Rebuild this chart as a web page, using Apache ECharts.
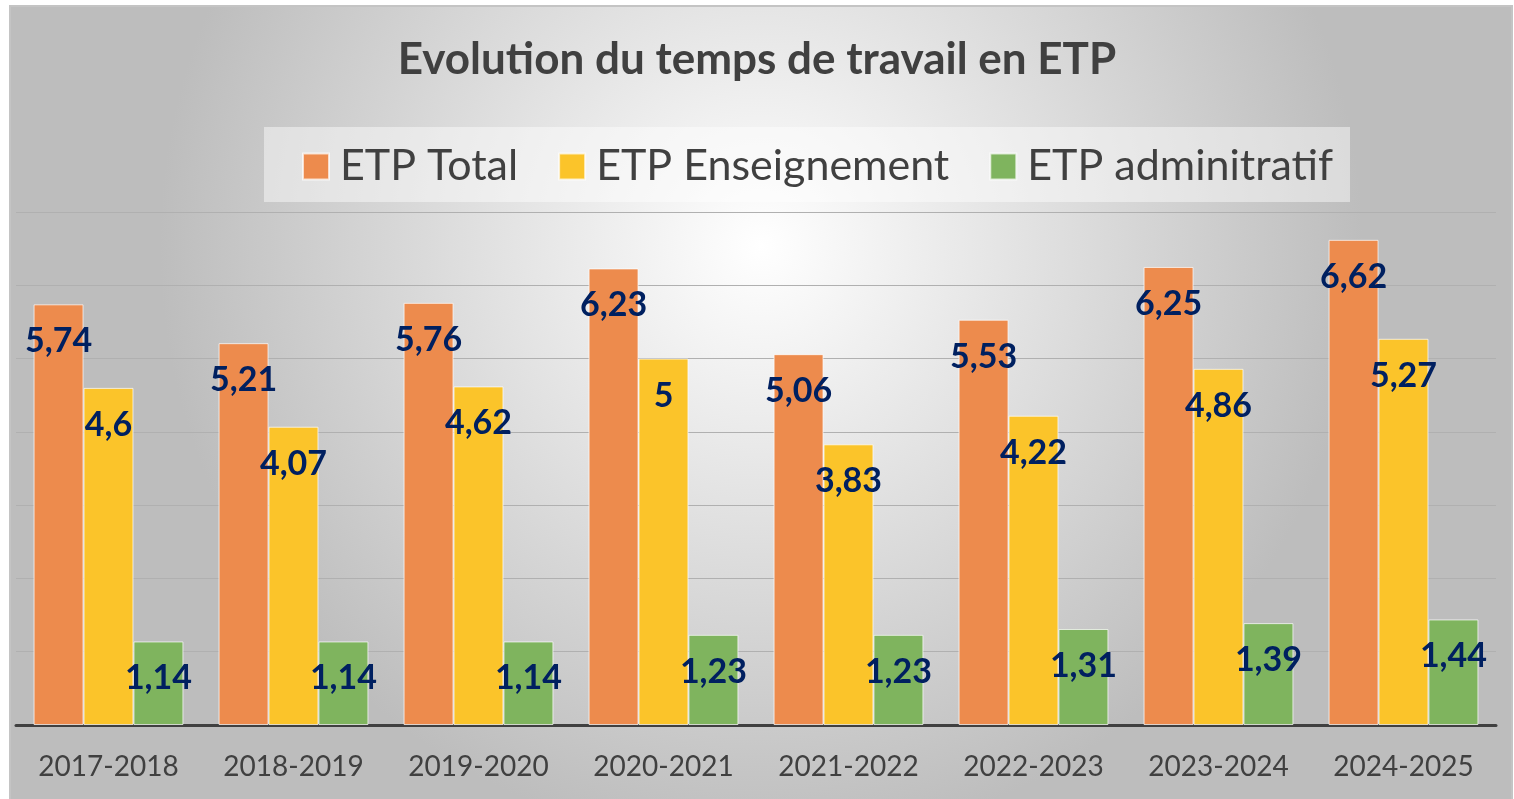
<!DOCTYPE html>
<html>
<head>
<meta charset="UTF-8">
<title>Evolution du temps de travail en ETP</title>
<script src="https://cdn.jsdelivr.net/npm/echarts@6/dist/echarts.min.js"></script>
<style>
  html, body { margin: 0; padding: 0; background: #fff; }
  #main { width: 1514px; height: 799px; }
</style>
</head>
<body>
<div id="main"></div>
<script>
var annees = ['2017-2018', '2018-2019', '2019-2020', '2020-2021', '2021-2022', '2022-2023', '2023-2024', '2024-2025'];
var etpTotal = [5.74, 5.21, 5.76, 6.23, 5.06, 5.53, 6.25, 6.62];
var etpEnseignement = [4.6, 4.07, 4.62, 5, 3.83, 4.22, 4.86, 5.27];
var etpAdmin = [1.14, 1.14, 1.14, 1.23, 1.23, 1.31, 1.39, 1.44];
var noms = ['ETP Total', 'ETP Enseignement', 'ETP adminitratif'];
var couleurs = ['#ED8B4D', '#FBC42A', '#7FB45E'];

var font = 'Lato, "Open Sans", sans-serif';

function label() {
  return {
    show: true,
    position: ['50%', 37],
    align: 'center',
    verticalAlign: 'middle',
    color: '#002060',
    fontSize: 34,
    fontWeight: 'bold',
    fontFamily: font,
    formatter: function (p) { return String(p.value).replace('.', ','); }
  };
}

function serie(i, data) {
  return {
    name: noms[i],
    type: 'bar',
    data: data,
    barGap: '0%',
    barCategoryGap: '19%',
    itemStyle: { color: couleurs[i], borderColor: 'rgba(255,255,255,0.7)', borderWidth: 1 },
    label: label()
  };
}

var chart = echarts.init(document.getElementById('main'));
chart.setOption({
  animation: false,
  graphic: [{
    type: 'rect',
    z: -10,
    silent: true,
    shape: { x: 10, y: 6, width: 1502, height: 800 },
    style: {
      fill: {
        type: 'radial', x: 0.5, y: 0.3, r: 0.75,
        colorStops: [{ offset: 0, color: '#ffffff' }, { offset: 1, color: '#bdbdbd' }]
      },
      stroke: '#c4c4c4', lineWidth: 2
    }
  }, {
    type: 'rect',
    z: -9,
    silent: true,
    shape: { x: 264, y: 127, width: 1086, height: 75 },
    style: { fill: 'rgba(255,255,255,0.45)' }
  }],
  title: {
    text: 'Evolution du temps de travail en ETP',
    left: 'center',
    top: 33,
    textStyle: { color: '#404040', fontSize: 44, fontWeight: 'bold', fontFamily: font }
  },
  legend: {
    data: noms,
    top: 140,
    left: 297,
    itemWidth: 26,
    itemHeight: 26,
    itemGap: 40,
    icon: 'rect',
    textStyle: { color: '#404040', fontSize: 43, fontFamily: font, padding: [0, 0, 0, 6] }
  },
  grid: { left: 16, right: 18, top: 212, bottom: 74 },
  xAxis: {
    type: 'category',
    data: annees,
    axisTick: { show: false },
    axisLine: { lineStyle: { color: '#404040', width: 3 } },
    axisLabel: { color: '#404040', fontSize: 28, fontFamily: font, margin: 28 }
  },
  yAxis: {
    type: 'value',
    min: 0,
    max: 7,
    interval: 1,
    axisLabel: { show: false },
    splitLine: { lineStyle: { color: '#b0b0b0', width: 1 } }
  },
  series: [serie(0, etpTotal), serie(1, etpEnseignement), serie(2, etpAdmin)]
});
</script>
</body>
</html>
